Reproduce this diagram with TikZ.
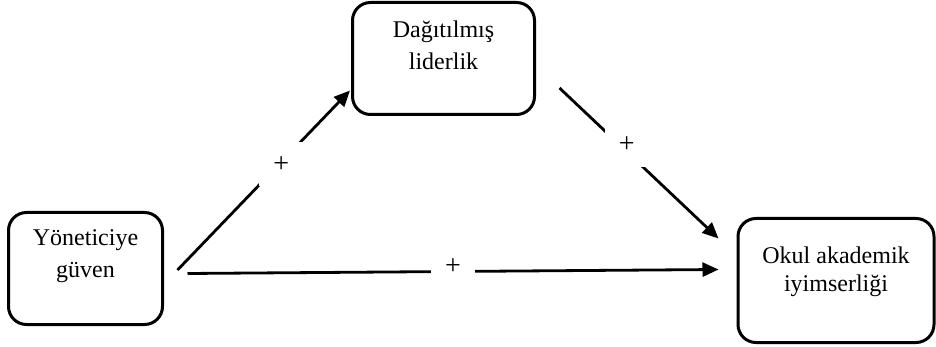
\documentclass[tikz,border=0pt]{standalone}
\usepackage{fontspec}
\setmainfont{Liberation Serif}
\usetikzlibrary{arrows.meta, calc, positioning}

\begin{document}
\begin{tikzpicture}[x=0.5pt, y=-0.5pt,
        box/.style={draw, rounded corners=9pt, line width=1.5pt, inner sep=0pt},
        txt/.style={anchor=north, align=center, inner sep=0pt, font=\fontsize{12}{16}\selectfont},
        link/.style={line width=1.4pt, -{Triangle[length=8pt, width=7pt]}},
        sign/.style={fill=white, minimum size=22pt, inner sep=0pt, font=\fontsize{14}{16}\selectfont}]
        \useasboundingbox (0,0) rectangle (936,347);

        % boxes
        \node[box, minimum width=77pt, minimum height=56pt] (B1) at (85.5,268.5) {};
        \node[box, minimum width=91pt, minimum height=56pt] (B2) at (443.5,58.5) {};
        \node[box, minimum width=98pt, minimum height=62pt] (B3) at (836,280.5) {};

        \node[txt] (T1) at ($(B1.north)+(0,18)$) {Yöneticiye\\güven};
        \node[txt] (T2) at ($(B2.north)+(0,19)$) {Dağıtılmış\\liderlik};
        \node[txt, font=\fontsize{12}{14}\selectfont] (T3) at ($(B3.north)+(0,29)$) {Okul akademik\\iyimserliği};

        % connectors
        \draw [link] ($(B1.east)+(13.5,1.5)$) -- node[sign, pos=0.59, xshift=1pt] (P1) {+} ($(B2.west)+(-1,32)$);
        \draw [link] ($(B2.east)+(23.5,29.5)$) -- node[sign, pos=0.41, xshift=1pt, yshift=2.5pt] (P2) {+} ($(B3.west)+(-18,-42)$);
        \draw [link] ($(B1.east)+(23.5,5)$) -- node[sign, pos=0.5, yshift=2.5pt] (P3) {+} ($(B3.west)+(-18,-11)$);
    \end{tikzpicture}
\end{document}
